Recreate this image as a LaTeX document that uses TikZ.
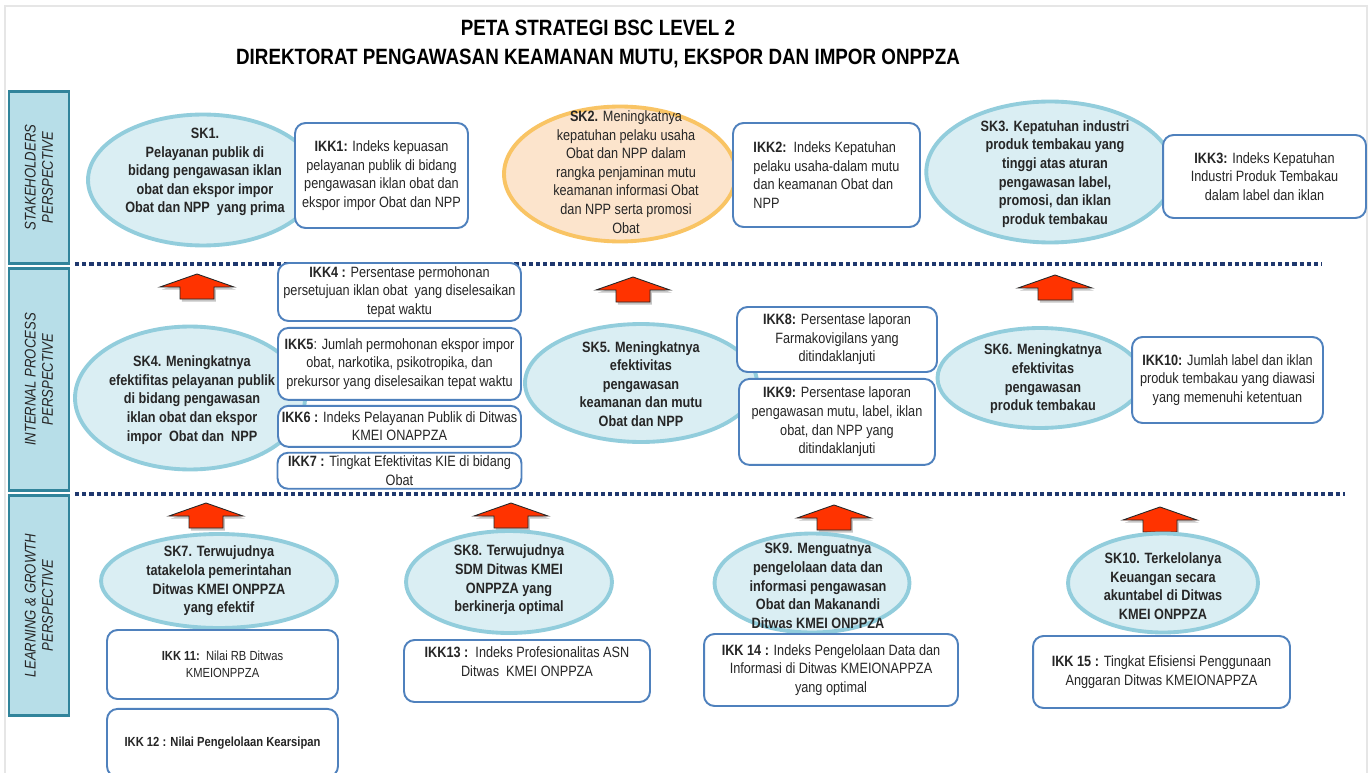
\documentclass[tikz,border=0pt]{standalone}
\usepackage{fontspec}
\setmainfont{Liberation Sans}[FakeStretch=0.85]
\usepackage{tikz}
\usetikzlibrary{shapes.geometric, positioning, shadows}
\definecolor{sideteal}{RGB}{49,132,155}
\definecolor{sidefill}{RGB}{183,222,232}
\definecolor{skfill}{RGB}{218,238,243}
\definecolor{skedge}{RGB}{146,205,220}
\definecolor{sktwofill}{RGB}{252,228,204}
\definecolor{sktwoedge}{RGB}{249,196,100}
\definecolor{ikkedge}{RGB}{79,129,189}
\definecolor{dotnavy}{RGB}{31,56,110}
\definecolor{arrowred}{RGB}{255,51,0}
\definecolor{inkdark}{RGB}{38,38,38}
\definecolor{framegray}{RGB}{230,230,230}
\newcommand{\bscfont}{\fontsize{8.5}{10.6}\selectfont}
\newcommand{\bscsmall}{\fontsize{7.5}{9.4}\selectfont}
\tikzset{
  sidebox/.style={rectangle, draw=sideteal, fill=sidefill, line width=1.7pt,
    rotate=90, minimum height=1.2cm, align=center,
    font=\fontsize{8.8}{9.8}\selectfont\itshape, text=inkdark},
  skoval/.style={ellipse, draw=skedge, fill=skfill, line width=2.2pt, inner sep=0pt},
  skorange/.style={skoval, draw=sktwoedge, fill=sktwofill},
  sktext/.style={align=center, inner sep=0pt, font=\bscfont\bfseries, text=inkdark},
  ikkbox/.style={rectangle, rounded corners=6pt, draw=ikkedge, fill=white,
    line width=1.1pt, align=center, inner sep=1.5pt, font=\bscfont, text=inkdark},
  titletext/.style={align=center, font=\fontsize{12.6}{16.4}\selectfont\bfseries, text=black},
  layerline/.style={dotnavy, line width=2pt, dash pattern=on 2.4pt off 1.7pt},
  uparrowshape/.style={fill=arrowred, draw=black!85, line width=0.5pt,
    drop shadow={opacity=0.45, shadow xshift=1pt, shadow yshift=-1.5pt}},
  pics/bscup/.style={code={
    \filldraw[uparrowshape] (-37,13) -- (0,0) -- (37,13) -- (17,13) -- (17,25)
      -- (-17,25) -- (-17,13) -- cycle;}}
}

\begin{document}
\begin{tikzpicture}[x=0.02cm, y=-0.02cm]
  \useasboundingbox (0,0) rectangle (1371,773);
  \clip (0,0) rectangle (1371,773);
  \fill[white] (0,0) rectangle (1371,773);
  \draw[framegray, line width=1pt] (5,6) rectangle (1367,800);

  % Title
  \node[titletext] (title) at (598,44) {PETA STRATEGI BSC LEVEL 2\\DIREKTORAT PENGAWASAN KEAMANAN MUTU, EKSPOR DAN IMPOR ONPPZA};

  % Perspectives
  \node[sidebox, minimum width=3.45cm] (stake) at (39,177.5) {STAKEHOLDERS\\PERSPECTIVE};
  \node[sidebox, minimum width=4.45cm] (internal) at (39,379.5) {INTERNAL PROCESS\\PERSPECTIVE};
  \node[sidebox, minimum width=4.4cm] (learning) at (39,605.5) {LEARNING \& GROWTH\\PERSPECTIVE};

  % Layer separators
  \draw[layerline] (75,264) -- (1322,264);
  \draw[layerline] (75,494) -- (1345,494);

  % Stakeholders objectives
  \node[skoval, minimum width=4.6cm, minimum height=2.62cm] (skone) at (203,180) {};
  \node[sktext] (skonetext) at (205,172) {SK1.\\Pelayanan publik di\\bidang pengawasan iklan\\obat dan ekspor impor\\Obat dan NPP\ \ yang prima};
  \node[skorange, minimum width=4.64cm, minimum height=2.7cm] (sktwo) at (620,174) {};
  \node[sktext, font=\bscfont] (sktwotext) at (626,172) {\textbf{SK2.} Meningkatnya\\kepatuhan pelaku usaha\\Obat dan NPP dalam\\rangka penjaminan mutu\\keamanan informasi Obat\\dan NPP serta promosi\\Obat};
  \node[skoval, minimum width=4.95cm, minimum height=2.82cm] (skthree) at (1050,172) {};
  \node[sktext] (skthreetext) at (1055,174) {SK3. Kepatuhan industri\\produk tembakau yang\\tinggi atas aturan\\pengawasan label,\\promosi, dan iklan\\produk tembakau};

  \node[ikkbox, minimum width=3.46cm, minimum height=2.1cm] (ikkone) at (381.5,175.5) {\textbf{IKK1:} Indeks kepuasan\\pelayanan publik di bidang\\pengawasan iklan obat dan\\ekspor impor Obat dan NPP};
  \node[ikkbox, align=left, minimum width=3.74cm, minimum height=2.08cm] (ikktwo) at (826.5,175) {\textbf{IKK2:}\ \ Indeks Kepatuhan\\pelaku usaha-dalam mutu\\dan keamanan Obat dan\\NPP};
  \node[ikkbox, minimum width=4.06cm, minimum height=1.66cm] (ikkthree) at (1264.5,176.5) {\textbf{IKK3:} Indeks Kepatuhan\\Industri\ Produk Tembakau\\dalam label dan iklan};

  % Internal process objectives
  \pic (upone) at (197,274) {bscup};
  \pic (uptwo) at (633,277) {bscup};
  \pic (upthree) at (1055,275) {bscup};

  \node[skoval, minimum width=4.6cm, minimum height=2.86cm] (skfour) at (190,398) {};
  \node[sktext] (skfourtext) at (192,400) {SK4. Meningkatnya\\efektifitas pelayanan publik\\di bidang pengawasan\\iklan obat dan ekspor\\impor\ \ Obat dan\ \ NPP};
  \node[skoval, minimum width=4.64cm, minimum height=2.36cm] (skfive) at (641,383) {};
  \node[sktext] (skfivetext) at (641,384) {SK5. Meningkatnya\\efektivitas\\pengawasan\\keamanan dan mutu\\Obat dan NPP};
  \node[skoval, minimum width=4.1cm, minimum height=2.0cm] (sksix) at (1040,378) {};
  \node[sktext] (sksixtext) at (1043,379) {SK6. Meningkatnya\\efektivitas\\pengawasan\\produk tembakau};

  \node[ikkbox, minimum width=4.86cm, minimum height=1.16cm] (ikkfour) at (399.5,292) {\textbf{IKK4 :} Persentase permohonan\\persetujuan iklan obat\ \ yang diselesaikan\\tepat waktu};
  \node[ikkbox, minimum width=4.86cm, minimum height=1.44cm, below=0.1cm of ikkfour] (ikkfive) {\textbf{IKK5}: Jumlah permohonan ekspor impor\\obat, narkotika, psikotropika, dan\\prekursor yang diselesaikan tepat waktu};
  \node[ikkbox, minimum width=4.86cm, minimum height=0.82cm, below=0.08cm of ikkfive] (ikksix) {\textbf{IKK6 :} Indeks Pelayanan Publik di Ditwas\\KMEI ONAPPZA};
  \node[ikkbox, inner ysep=0.5pt, minimum width=4.88cm, minimum height=0.72cm, below=0.08cm of ikksix] (ikkseven) {\textbf{IKK7 :} Tingkat Efektivitas\ KIE\ di bidang\\Obat};
  \node[ikkbox, minimum width=4.0cm, minimum height=1.3cm] (ikkeight) at (837,339.5) {\textbf{IKK8:} Persentase laporan\\Farmakovigilans yang\\ditindaklanjuti};
  \node[ikkbox, minimum width=3.92cm, minimum height=1.72cm, below=0.1cm of ikkeight] (ikknine) {\textbf{IKK9:} Persentase laporan\\pengawasan mutu, label, iklan\\obat, dan NPP yang\\ditindaklanjuti};
  \node[ikkbox, minimum width=3.82cm, minimum height=1.72cm] (ikkten) at (1227.5,380) {\textbf{IKK10:} Jumlah label dan iklan\\produk tembakau yang diawasi\\yang memenuhi ketentuan};

  % Learning and growth objectives
  \pic (upfour) at (206,503) {bscup};
  \pic (upfive) at (511,503) {bscup};
  \pic (upsix) at (834,505) {bscup};
  \pic (upseven) at (1160,507) {bscup};

  \node[skoval, minimum width=4.72cm, minimum height=1.88cm] (skseven) at (219,581) {};
  \node[sktext] (skseventext) at (219,581) {SK7. Terwujudnya\\tatakelola pemerintahan\\Ditwas KMEI ONPPZA\\yang efektif};
  \node[skoval, minimum width=4.12cm, minimum height=2.04cm] (skeight) at (509,582) {};
  \node[sktext] (skeighttext) at (509,580) {SK8. Terwujudnya\\SDM Ditwas KMEI\\ONPPZA yang\\berkinerja optimal};
  \node[skoval, minimum width=3.9cm, minimum height=1.98cm] (sknine) at (812,583) {};
  \node[sktext] (skninetext) at (818,586) {SK9. Menguatnya\\pengelolaan data dan\\informasi pengawasan\\Obat dan Makanandi\\Ditwas KMEI ONPPZA};
  \node[skoval, minimum width=3.8cm, minimum height=1.98cm] (skten) at (1163,583) {};
  \node[sktext] (sktentext) at (1163,586) {SK10. Terkelolanya\\Keuangan secara\\akuntabel di Ditwas\\KMEI ONPPZA};

  \node[ikkbox, font=\bscsmall, minimum width=4.62cm, minimum height=1.38cm] (ikkeleven) at (222.5,664.5) {\textbf{IKK 11:}\ \ Nilai RB Ditwas\\KMEIONPPZA};
  \node[ikkbox, font=\bscsmall\bfseries, minimum width=4.62cm, minimum height=1.36cm, below=0.16cm of ikkeleven] (ikktwelve) {IKK 12 : Nilai Pengelolaan Kearsipan};
  \node[ikkbox, minimum width=4.92cm, minimum height=1.24cm] (ikkthirteen) at (527,671) {\textbf{IKK13 :}\ \ Indeks Profesionalitas ASN\\Ditwas\ \ KMEI ONPPZA\\~};
  \node[ikkbox, minimum width=5.08cm, minimum height=1.44cm] (ikkfourteen) at (831,670) {\textbf{IKK 14 :} Indeks Pengelolaan Data dan\\Informasi di Ditwas KMEIONAPPZA\\yang optimal};
  \node[ikkbox, minimum width=5.14cm, minimum height=1.44cm] (ikkfifteen) at (1161.5,672) {\textbf{IKK 15 :} Tingkat Efisiensi\ Penggunaan\\Anggaran Ditwas KMEIONAPPZA};
\end{tikzpicture}
\end{document}
